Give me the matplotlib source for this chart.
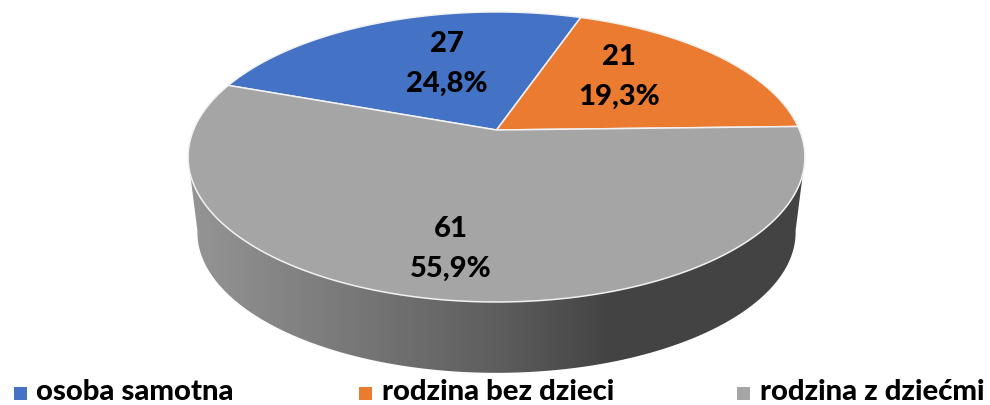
import numpy as np
import matplotlib
matplotlib.use('Agg')
import matplotlib.pyplot as plt
from matplotlib.colors import LinearSegmentedColormap
from matplotlib.patches import Polygon, Rectangle

categories = ['osoba samotna', 'rodzina bez dzieci', 'rodzina z dziećmi']
counts = [27, 21, 61]
shares = [24.8, 19.3, 55.9]
share_labels = ['24,8%', '19,3%', '55,9%']
colors = ['#4472C4', '#EB7B30', '#A5A5A5']

# pixel layout of the tilted disc
CX, CY, RX, RY, K = 496.5, 130, 303, 140, 0.186
START = 160.2
label_pos = [(447, 44), (619, 57), (451, 229)]
legend_x = [14, 359, 737]
legend_text_x = [36, 382, 760]


def project(deg, scale=1.0, y0=CY):
    t = np.radians(deg)
    w = 1 + K * np.sin(t)
    return CX + scale * RX * np.cos(t) / w, y0 - scale * RY * np.sin(t) / w


plt.rcParams['font.family'] = ['Lato', 'DejaVu Sans']
fig = plt.figure(figsize=(9.9, 4.05), dpi=100)
ax = fig.add_axes([0, 0, 1, 1])
ax.set_xlim(0, 990)
ax.set_ylim(405, 0)
ax.axis('off')

# side wall with the horizontal gradient
top_t = np.linspace(197, 343, 200)
bot_t = np.linspace(350, 190, 200)
xt, yt = project(top_t)
xb, yb = project(bot_t, 0.97, 206)
wall = Polygon(np.r_[np.c_[xt, yt], np.c_[xb, yb]], closed=True, fc='none', ec='none')
ax.add_patch(wall)
cmap = LinearSegmentedColormap.from_list('wall', [(0, '#959595'), (0.5, '#5e5e5e'), (0.68, '#444444'), (1, '#434343')])
img = ax.imshow(np.linspace(0, 1, 256)[None, :], cmap=cmap, extent=(188, 805, 405, 0), aspect='auto', zorder=1)
img.set_clip_path(wall)
ax.set_xlim(0, 990)
ax.set_ylim(405, 0)

# top slices, clockwise from the first slice angle
angle = START
for share, color in zip(shares, colors):
    sweep = share * 3.6
    x, y = project(np.linspace(angle, angle - sweep, 300))
    pts = np.r_[[[CX, CY]], np.c_[x, y]]
    ax.add_patch(Polygon(pts, closed=True, fc=color, ec='#f2f2f2', lw=1.1, joinstyle='round', zorder=2))
    angle -= sweep

for (x, y), n, s in zip(label_pos, counts, share_labels):
    ax.text(x, y, str(n), ha='center', va='center', fontsize=21, fontweight='black', color='black', zorder=3)
    ax.text(x, y + 40, s, ha='center', va='center', fontsize=21, fontweight='black', color='black', zorder=3)

for name, color, sx, tx in zip(categories, colors, legend_x, legend_text_x):
    ax.add_patch(Rectangle((sx, 387), 13, 13, fc=color, ec='none'))
    ax.text(tx, 392.5, name, ha='left', va='center', fontsize=21.1, fontweight='black', color='black')

fig.savefig('out.png', dpi=100)
